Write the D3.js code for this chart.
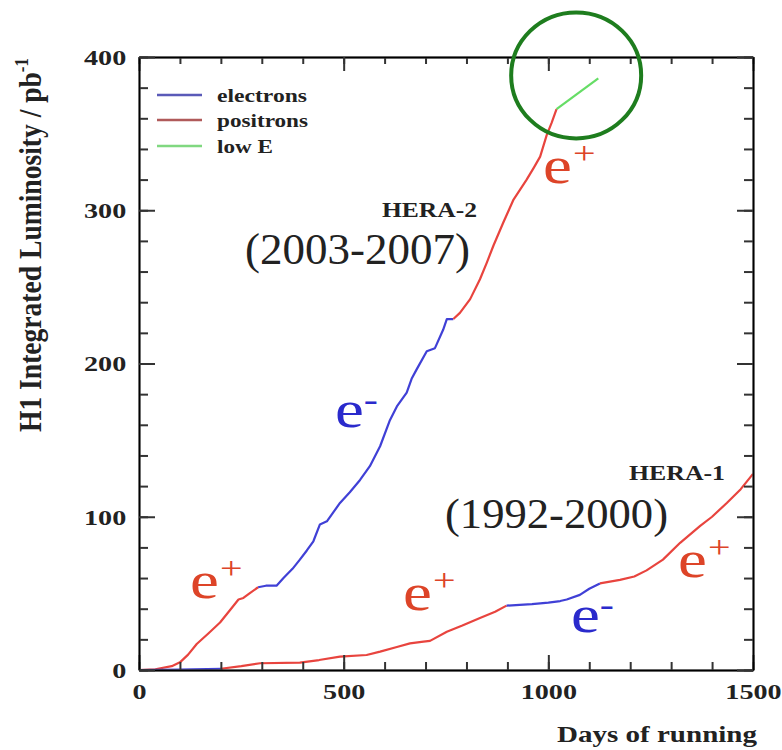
<!DOCTYPE html>
<html>
<head>
<meta charset="utf-8">
<script src="https://cdn.jsdelivr.net/npm/d3@7"></script>
<style>
  body { margin: 0; background: #fff; }
  svg { display: block; }
  text { font-family: "Liberation Serif", "DejaVu Serif", serif; }
</style>
</head>
<body>
<svg id="chart"></svg>
<script>
// HERA-2 (2003-2007): [day, integrated lumi / pb^-1]
var hera2PosA = [[0,0],[40,0.5],[80,2.5],[100,5],[120,10],[141,17],[170,24],[198,31],[225,40],[243,46],[255,47],[270,50],[291,54]];
var hera2Ele = [[291,54],[310,55],[336,55],[353,60],[375,66],[393,72],[410,78],[426,84],[442,95],[459,97],[475,103],[491,109],[515,116],[540,124],
                [564,133],[589,146],[613,163],[630,172],[654,181],[666,190],[678,196],[703,208],[723,210],[743,222],[752,229],[768,229]];
var hera2PosB = [[768,229],[784,233],[809,242],[833,255],[850,266],[866,277],[890,292],[915,307],[947,320],[965,328],[980,335],[996,349],[1008,357],[1020,366]];
var hera2LowE = [[1020,366],[1122,386]];

// HERA-1 (1992-2000)
var hera1EleA = [[0,0],[100,0.3],[200,0.8]];
var hera1PosA = [[200,0.8],[250,2.5],[296,4.4],[393,4.8],[440,6.5],[491,8.7],[556,9.8],[589,12],[630,15],[662,17.4],[695,18.5],[711,19],
                 [752,25],[790,29],[833,34],[870,38],[898,42]];
var hera1EleB = [[898,42],[930,42.5],[960,43],[1000,44],[1029,45],[1045,46],[1077,49],[1100,53],[1126,56.5]];
var hera1PosB = [[1126,56.5],[1175,58.8],[1210,61],[1240,65],[1280,72],[1322,83],[1371,94],[1400,100],[1436,109],[1470,118],[1500,128]];

var xMajor = [0, 500, 1000, 1500];
var yMajor = [0, 100, 200, 300, 400];
var legendNames = ["electrons", "positrons", "low E"];

var W = 782, H = 750;
var SX = 1.28; // the picture is stretched sideways, so is the text

var svg = d3.select("#chart").attr("width", W).attr("height", H);

var x = d3.scaleLinear().domain([0, 1500]).range([139, 753]);
var y = d3.scaleLinear().domain([0, 400]).range([670, 57]);

var RED = "#e8443e", BLUE = "#4040d6", GREEN = "#66dd66";

var line = d3.line().x(function(d){ return x(d[0]); }).y(function(d){ return y(d[1]); });

var curves = [
  [hera2PosA, RED], [hera2Ele, BLUE], [hera2PosB, RED], [hera2LowE, GREEN],
  [hera1EleA, BLUE], [hera1PosA, RED], [hera1EleB, BLUE], [hera1PosB, RED]
];
svg.append("g").selectAll("path").data(curves).enter().append("path")
   .attr("d", function(d){ return line(d[0]); })
   .attr("fill", "none")
   .attr("stroke", function(d){ return d[1]; })
   .attr("stroke-width", 2.2)
   .attr("stroke-linejoin", "round");

// axes, ticks point inwards on all four sides
var AX = "#333";
function styleAxis(g) {
  g.select(".domain").attr("stroke", AX).attr("stroke-width", 2.4);
  g.selectAll(".tick line").attr("stroke", AX).attr("stroke-width", 2);
}
var minorX = d3.range(0, 1501, 100), minorY = d3.range(0, 401, 20);
var fmt = d3.format("d");

var gb = svg.append("g").attr("transform", "translate(0," + y(0) + ")");
gb.call(d3.axisBottom(x).tickValues(minorX).tickSize(-8).tickSizeOuter(0).tickFormat(""));
gb.append("g").call(d3.axisBottom(x).tickValues(xMajor).tickSize(-15).tickSizeOuter(0).tickFormat(fmt));
gb.selectAll("text").attr("y", 29).attr("dy", 0)
  .attr("transform", "scale(" + SX + ",1)")
  .attr("font-family", "Liberation Serif").attr("font-weight", "bold")
  .attr("font-size", 22).attr("fill", "#222");
styleAxis(gb);

var gt = svg.append("g").attr("transform", "translate(0," + y(400) + ")");
gt.call(d3.axisTop(x).tickValues(minorX).tickSize(-7).tickSizeOuter(0).tickFormat(""));
gt.append("g").call(d3.axisTop(x).tickValues(xMajor).tickSize(-14).tickSizeOuter(0).tickFormat(""));
styleAxis(gt);

var gl = svg.append("g").attr("transform", "translate(" + x(0) + ",0)");
gl.call(d3.axisLeft(y).tickValues(minorY).tickSize(-9).tickSizeOuter(0).tickFormat(""));
gl.append("g").call(d3.axisLeft(y).tickValues(yMajor).tickSize(-16).tickSizeOuter(0).tickFormat(fmt));
gl.selectAll("text").attr("x", -10).attr("dy", "0.34em")
  .attr("transform", "scale(" + SX + ",1)")
  .attr("font-family", "Liberation Serif").attr("font-weight", "bold")
  .attr("font-size", 22).attr("fill", "#222");
styleAxis(gl);

var gr = svg.append("g").attr("transform", "translate(" + x(1500) + ",0)");
gr.call(d3.axisRight(y).tickValues(minorY).tickSize(-9).tickSizeOuter(0).tickFormat(""));
gr.append("g").call(d3.axisRight(y).tickValues(yMajor).tickSize(-16).tickSizeOuter(0).tickFormat(""));
styleAxis(gr);

// axis titles
svg.append("text")
   .attr("transform", "translate(557,742)")
   .attr("font-weight", "bold").attr("font-size", 23).attr("fill", "#222")
   .attr("textLength", 200).attr("lengthAdjust", "spacingAndGlyphs")
   .text("Days of running");

var yt = svg.append("text")
   .attr("transform", "translate(41,432) scale(1.2,1) rotate(-90)")
   .attr("font-weight", "bold").attr("font-size", 26).attr("fill", "#222")
   .attr("textLength", 374).attr("lengthAdjust", "spacingAndGlyphs");
yt.append("tspan").text("H1 Integrated Luminosity / pb");
yt.append("tspan").attr("font-size", 16).attr("dy", -11).text("-1");

// legend
var legendCols = ["#5a5ab8", "#b05a5a", "#80d880"];
var legendY = [95, 120, 146], legendW = [90, 91, 56];
var lg = svg.append("g");
lg.selectAll("line").data(legendNames).enter().append("line")
  .attr("x1", 157).attr("x2", 202)
  .attr("y1", function(d, i){ return legendY[i]; })
  .attr("y2", function(d, i){ return legendY[i]; })
  .attr("stroke", function(d, i){ return legendCols[i]; })
  .attr("stroke-width", 2.4);
lg.selectAll("text").data(legendNames).enter().append("text")
  .attr("x", 217).attr("y", function(d, i){ return legendY[i] + 7; })
  .attr("font-weight", "bold").attr("font-size", 18).attr("fill", "#222")
  .attr("textLength", function(d, i){ return legendW[i]; })
  .attr("lengthAdjust", "spacingAndGlyphs")
  .text(function(d){ return d; });

// period labels
function label(txt, px, py, size, bold, width) {
  svg.append("text").attr("x", px).attr("y", py)
     .attr("font-size", size).attr("font-weight", bold ? "bold" : "normal")
     .attr("fill", "#222")
     .attr("textLength", width).attr("lengthAdjust", "spacingAndGlyphs")
     .text(txt);
}
label("HERA-2", 382, 217, 22, true, 95);
label("(2003-2007)", 245, 264, 44, false, 225);
label("HERA-1", 629, 480, 22, true, 96);
label("(1992-2000)", 445, 528, 42, false, 223);

// beam charge marks
function charge(sign, px, py, col) {
  var t = svg.append("text")
     .attr("transform", "translate(" + px + "," + py + ") scale(1.25,1)")
     .attr("fill", col);
  t.append("tspan").attr("font-size", 52).text("e");
  t.append("tspan").attr("font-size", sign === "+" ? 32 : 34).attr("dy", sign === "+" ? -19 : -16)
   .attr("dx", sign === "+" ? 1 : 0).text(sign);
}
var ePlus = "#dd4428", eMinus = "#2a2acc";
charge("+", 543, 183, ePlus);
charge("-", 335, 427, eMinus);
charge("+", 190, 598, ePlus);
charge("+", 403, 610, ePlus);
charge("-", 571, 632, eMinus);
charge("+", 678, 577, ePlus);

// green ring around the low energy run
svg.append("ellipse")
   .attr("cx", x(1068)).attr("cy", y(388))
   .attr("rx", 65).attr("ry", 63)
   .attr("fill", "none").attr("stroke", "#1e7d1e").attr("stroke-width", 4);
</script>
</body>
</html>
